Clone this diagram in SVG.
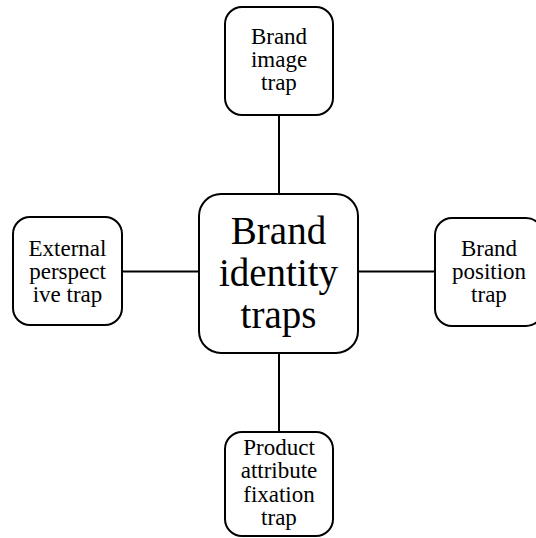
<svg xmlns="http://www.w3.org/2000/svg" width="536" height="538" viewBox="0 0 536 538">
  <style>
    .box { fill: #ffffff; stroke: #000000; stroke-width: 2; }
    .link { stroke: #000000; stroke-width: 2; fill: none; }
    .small { font-family: "Liberation Serif", "Times New Roman", serif; font-size: 23px; fill: #000000; text-anchor: middle; }
    .big { font-family: "Liberation Serif", "Times New Roman", serif; font-size: 39px; fill: #000000; text-anchor: middle; }
  </style>
  <rect width="536" height="538" fill="#ffffff"/>

  <!-- spokes from the hub to each trap -->
  <g id="connectors">
    <line class="link" x1="279" y1="115" x2="279" y2="194"/>
    <line class="link" x1="279" y1="353" x2="279" y2="432"/>
    <line class="link" x1="122" y1="271.5" x2="199" y2="271.5"/>
    <line class="link" x1="358" y1="271.5" x2="435" y2="271.5"/>
  </g>

  <g id="hub">
    <rect class="box" x="199" y="194" width="159" height="159" rx="22" ry="22"/>
    <text class="big" x="278.5" y="244">Brand</text>
    <text class="big" x="278.5" y="286">identity</text>
    <text class="big" x="278.5" y="328">traps</text>
  </g>

  <g id="brand-image-trap">
    <rect class="box" x="225" y="7" width="108" height="108" rx="17" ry="17"/>
    <text class="small" x="279" y="44">Brand</text>
    <text class="small" x="279" y="67">image</text>
    <text class="small" x="279" y="90">trap</text>
  </g>

  <g id="external-perspective-trap">
    <rect class="box" x="13" y="217" width="109" height="108" rx="17" ry="17"/>
    <text class="small" x="67.5" y="256">External</text>
    <text class="small" x="67.5" y="279">perspect</text>
    <text class="small" x="67.5" y="302">ive trap</text>
  </g>

  <g id="brand-position-trap">
    <rect class="box" x="435" y="218" width="108" height="108" rx="17" ry="17"/>
    <text class="small" x="489" y="256">Brand</text>
    <text class="small" x="489" y="279">position</text>
    <text class="small" x="489" y="302">trap</text>
  </g>

  <g id="product-attribute-fixation-trap">
    <rect class="box" x="225" y="432" width="108" height="104" rx="17" ry="17"/>
    <text class="small" x="279" y="455">Product</text>
    <text class="small" x="279" y="478">attribute</text>
    <text class="small" x="279" y="502">fixation</text>
    <text class="small" x="279" y="525">trap</text>
  </g>
</svg>
